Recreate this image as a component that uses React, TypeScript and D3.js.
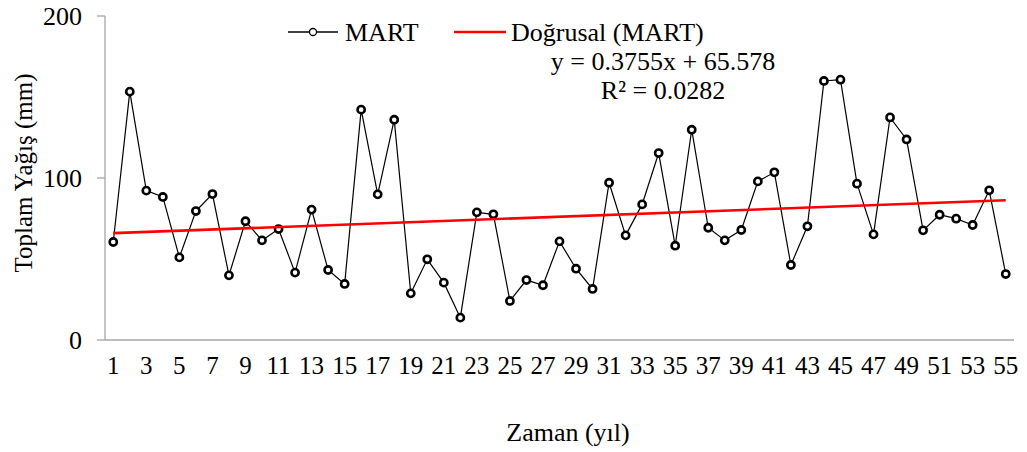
import React from "react";
import * as d3 from "d3";

const years: number[] = Array.from({ length: 55 }, (_, i) => i + 1);
const values: number[] = [
  60.5, 153.3, 92.2, 88.3, 51.0, 79.6, 90.1, 39.9, 73.3, 61.5,
  68.5, 41.6, 80.5, 43.2, 34.6, 142.2, 89.9, 136.0, 28.8, 49.8,
  35.4, 13.8, 78.8, 77.6, 24.1, 37.0, 33.8, 60.9, 44.0, 31.5,
  97.1, 64.6, 83.7, 115.4, 58.2, 129.8, 69.3, 61.5, 67.9, 97.9,
  103.5, 46.3, 70.2, 159.9, 160.7, 96.5, 65.2, 137.4, 123.8, 67.7,
  77.3, 74.9, 71.0, 92.4, 40.7,
];
const yTicks: number[] = [0, 100, 200];
const xTickLabels: number[] = years.filter((y) => y % 2 === 1);
const trendSlope = 0.3755;
const trendIntercept = 65.578;
const seriesName = "MART";
const trendName = "Doğrusal (MART)";
const equationText = "y = 0.3755x + 65.578";
const r2Text = "R² = 0.0282";
const yTitle = "Toplam Yağış (mm)";
const xTitle = "Zaman (yıl)";

const W = 1027;
const H = 452;
const left = 105;
const right = 1014;
const top = 16;
const bottom = 340;
const FONT = '"Liberation Serif", "Times New Roman", Times, serif';

export default function App() {
  const x = d3.scaleBand<number>().domain(years).range([left, right]).padding(0);
  const cx = (d: number) => (x(d) as number) + x.bandwidth() / 2;
  const y = d3.scaleLinear().domain([0, 200]).range([bottom, top]);

  const line = d3
    .line<number>()
    .x((_, i) => cx(years[i]))
    .y((v) => y(v));

  const trendPts: [number, number][] = [years[0], years[years.length - 1]].map((t) => [
    cx(t),
    y(trendSlope * t + trendIntercept),
  ]);

  const axisColor = "#a6a6a6";
  const ts = { fontFamily: FONT };

  return (
    <svg
      width={W}
      height={H}
      style={{ position: "absolute", left: 0, top: 0, background: "#fff", fontFamily: FONT }}
    >
      <rect x={0} y={0} width={W} height={H} fill="#fff" />
      <line x1={left} x2={left} y1={top} y2={bottom} stroke={axisColor} strokeWidth={1.3} />
      <line x1={left} x2={right} y1={bottom} y2={bottom} stroke={axisColor} strokeWidth={1.3} />
      {yTicks.map((t) => (
        <g key={t}>
          <line x1={left - 8} x2={left} y1={y(t)} y2={y(t)} stroke={axisColor} strokeWidth={1.3} />
          <text
            x={82}
            y={y(t) + 9}
            textAnchor="end"
            fontSize={26}
            fill="#000"
            style={ts}
          >
            {t}
          </text>
        </g>
      ))}
      {xTickLabels.map((t) => (
        <text
          key={t}
          x={cx(t)}
          y={374}
          textAnchor="middle"
          fontSize={25}
          fill="#000"
          style={ts}
        >
          {t}
        </text>
      ))}
      <text x={568} y={441} textAnchor="middle" fontSize={26} fill="#000" style={ts}>
        {xTitle}
      </text>
      <text
        transform={`translate(32,173) rotate(-90)`}
        textAnchor="middle"
        fontSize={25}
        fill="#000"
        style={ts}
      >
        {yTitle}
      </text>

      <path d={line(values) || ""} fill="none" stroke="#000" strokeWidth={1.2} />
      {values.map((v, i) => (
        <circle
          key={i}
          cx={cx(years[i])}
          cy={y(v)}
          r={3.6}
          fill="#fff"
          stroke="#000"
          strokeWidth={2.6}
        />
      ))}
      <line
        x1={trendPts[0][0]}
        y1={trendPts[0][1]}
        x2={trendPts[1][0]}
        y2={trendPts[1][1]}
        stroke="#ff0000"
        strokeWidth={2.6}
      />

      <line x1={288} x2={338} y1={32} y2={32} stroke="#000" strokeWidth={1.3} />
      <circle cx={313} cy={32} r={3.5} fill="#fff" stroke="#000" strokeWidth={1.3} />
      <text x={345} y={41} fontSize={26} fill="#000" style={ts}>
        {seriesName}
      </text>
      <line x1={454} x2={506} y1={32} y2={32} stroke="#ff0000" strokeWidth={2.6} />
      <text x={511} y={41} fontSize={26} fill="#000" style={ts}>
        {trendName}
      </text>
      <text x={663} y={70} textAnchor="middle" fontSize={26} fill="#000" style={ts}>
        {equationText}
      </text>
      <text x={663} y={99} textAnchor="middle" fontSize={26} fill="#000" style={ts}>
        {r2Text}
      </text>
    </svg>
  );
}
